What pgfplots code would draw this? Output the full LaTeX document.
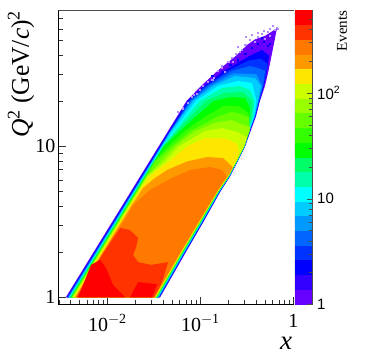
\documentclass[border=0pt]{standalone}
\usepackage{fontspec}
\setmainfont{Liberation Serif}
\setsansfont{Liberation Sans}
\usepackage{pgfplots}
\pgfplotsset{compat=1.18}

% palette, bottom (1 event) to top of the colour bar
\definecolor{c1}{HTML}{6600FF}
\definecolor{c2}{HTML}{3300FF}
\definecolor{c3}{HTML}{0000FF}
\definecolor{c4}{HTML}{0033FF}
\definecolor{c5}{HTML}{0066FF}
\definecolor{c6}{HTML}{0099FF}
\definecolor{c7}{HTML}{00CCFF}
\definecolor{c8}{HTML}{00FFFF}
\definecolor{c9}{HTML}{00FFAA}
\definecolor{c10}{HTML}{00FF66}
\definecolor{c11}{HTML}{00FF00}
\definecolor{c12}{HTML}{33FF00}
\definecolor{c13}{HTML}{66FF00}
\definecolor{c14}{HTML}{99FF00}
\definecolor{c15}{HTML}{CCFF00}
\definecolor{c16}{HTML}{FFE600}
\definecolor{c17}{HTML}{FF9900}
\definecolor{c18}{HTML}{FF7800}
\definecolor{c19}{HTML}{FF3300}
\definecolor{c20}{HTML}{FF0000}
\definecolor{speck}{HTML}{B48CFF}

\pgfplotsset{band/.style={fill=#1,draw=none,mark=none,forget plot}}

\begin{document}
\begin{tikzpicture}
\path[use as bounding box] (-58.5pt,-49.5pt) rectangle (308.5pt,304.5pt);

\begin{axis}[
  at={(0pt,0pt)}, anchor=south west,
  scale only axis, width=235.5pt, height=294pt,
  xmode=log, ymode=log,
  xmin=0.00298, xmax=1.017, ymin=0.896, ymax=79.3,
  axis lines=left,
  axis line style={-, black, line width=0.8pt},
  tick align=inside, major tick length=8pt, minor tick length=4.5pt,
  tick style={black!80, line width=0.5pt},
  xtick={0.01,0.1,1}, xticklabels={10\textsuperscript{$-$2},10\textsuperscript{$-$1},1},
  minor xtick={0.003,0.004,0.005,0.006,0.007,0.008,0.009,0.02,0.03,0.04,0.05,0.06,0.07,0.08,0.09,0.2,0.3,0.4,0.5,0.6,0.7,0.8,0.9},
  ytick={1,10}, yticklabels={1,10},
  minor ytick={2,3,4,5,6,7,8,9,20,30,40,50,60,70},
  xticklabel style={font=\fontsize{20}{20}\selectfont, yshift=-10pt, inner sep=0pt},
  yticklabel style={font=\fontsize{20}{20}\selectfont, xshift=-3pt, inner sep=0pt},
  xlabel={\textit{x}}, ylabel={\textit{Q}\textsuperscript{2} (GeV/\textit{c})\textsuperscript{2}},
  xlabel style={font=\fontsize{27}{27}\selectfont, at={(axis description cs:0.966,-0.11)}, anchor=north, inner sep=0pt},
  ylabel style={font=\fontsize{25.5}{26}\selectfont, at={(axis description cs:-0.159,1)}, anchor=east, inner sep=0pt},
]
% nested level regions of the histogram, lowest level first
\addplot[band=c1] coordinates {(0.00357,1) (0.0712,20) (0.102,25.1) (0.153,31.6) (0.242,39.8) (0.32,47) (0.387,51) (0.5,54) (0.6,58) (0.667,60.5) (0.628,50.1) (0.583,39.8) (0.541,31.6) (0.496,25.1) (0.438,20) (0.397,15.8) (0.347,12.6) (0.303,10) (0.252,7.94) (0.208,6.31) (0.164,5.01) (0.108,3.16) (0.0702,2) (0.0369,1)} --cycle;
\addplot[band=c3] coordinates {(0.00366,1) (0.073,20) (0.11,25.1) (0.18,31.6) (0.342,39.8) (0.46,43.4) (0.548,39.8) (0.521,31.6) (0.484,25.1) (0.433,20) (0.392,15.8) (0.342,12.6) (0.302,10) (0.251,7.94) (0.207,6.31) (0.163,5.01) (0.107,3.16) (0.0692,2) (0.0363,1)} --cycle;
\addplot[band=c4] coordinates {(0.0037,1) (0.0745,20) (0.114,25.1) (0.198,31.6) (0.33,37) (0.45,38) (0.53,35) (0.515,31.6) (0.478,25.1) (0.43,20) (0.39,15.8) (0.34,12.6) (0.301,10) (0.25,7.94) (0.206,6.31) (0.162,5.01) (0.106,3.16) (0.0688,2) (0.0361,1)} --cycle;
\addplot[band=c5] coordinates {(0.00375,1) (0.0734,19) (0.0775,20) (0.118,25.1) (0.219,31.6) (0.342,34) (0.417,33) (0.496,31.6) (0.472,25.1) (0.428,20) (0.387,15.8) (0.338,12.6) (0.301,10) (0.249,7.94) (0.205,6.31) (0.161,5.01) (0.105,3.16) (0.0683,2) (0.0358,1)} --cycle;
\addplot[band=c6] coordinates {(0.0038,1) (0.0475,12.6) (0.0618,15.8) (0.0805,20) (0.127,25.1) (0.228,30.4) (0.4,30) (0.46,25.1) (0.42,20) (0.385,15.8) (0.336,12.6) (0.3,10) (0.249,7.94) (0.204,6.31) (0.16,5.01) (0.104,3.16) (0.0677,2) (0.0355,1)} --cycle;
\addplot[band=c7] coordinates {(0.00385,1) (0.0484,12.6) (0.0628,15.8) (0.0835,20) (0.137,25.1) (0.236,29.2) (0.387,28.3) (0.45,25.1) (0.417,20) (0.383,15.8) (0.334,12.6) (0.299,10) (0.248,7.94) (0.204,6.31) (0.159,5.01) (0.104,3.16) (0.0671,2) (0.0351,1)} --cycle;
\addplot[band=c8] coordinates {(0.0039,1) (0.0389,10) (0.0502,12.6) (0.0668,15.8) (0.0899,20) (0.155,25.1) (0.254,27.1) (0.36,26.2) (0.402,20) (0.378,15.8) (0.334,12.6) (0.298,10) (0.247,7.94) (0.203,6.31) (0.158,5.01) (0.103,3.16) (0.0665,2) (0.0348,1)} --cycle;
\addplot[band=c9] coordinates {(0.00394,1) (0.0394,10) (0.0535,12.6) (0.0719,15.8) (0.0993,20) (0.171,24.3) (0.267,25.1) (0.342,23.6) (0.383,20) (0.369,15.8) (0.33,12.6) (0.298,10) (0.246,7.94) (0.202,6.31) (0.158,5.01) (0.102,3.16) (0.066,2) (0.0345,1)} --cycle;
\addplot[band=c10] coordinates {(0.00399,1) (0.0399,10) (0.0561,12.6) (0.0794,15.8) (0.115,20) (0.184,22.5) (0.288,22.9) (0.36,20) (0.356,15.8) (0.322,12.6) (0.298,10) (0.246,7.94) (0.202,6.31) (0.157,5.01) (0.102,3.16) (0.0656,2) (0.0342,1)} --cycle;
\addplot[band=c11] coordinates {(0.00404,1) (0.0404,10) (0.0605,12.6) (0.0899,15.8) (0.14,20) (0.219,21.2) (0.303,20.9) (0.342,17.9) (0.339,15.8) (0.314,12.6) (0.297,10) (0.245,7.94) (0.201,6.31) (0.156,5.01) (0.101,3.16) (0.0651,2) (0.034,1)} --cycle;
\addplot[band=c12] coordinates {(0.00409,1) (0.0319,7.94) (0.0448,10) (0.0671,12.6) (0.115,15.8) (0.178,18.5) (0.26,18.4) (0.33,16.6) (0.34,12.6) (0.296,10) (0.245,7.94) (0.2,6.31) (0.156,5.01) (0.1,3.16) (0.0647,2) (0.0338,1)} --cycle;
\addplot[band=c13] coordinates {(0.00414,1) (0.0328,7.94) (0.0497,10) (0.0775,12.6) (0.155,15.8) (0.219,16.9) (0.267,16.4) (0.335,15.5) (0.335,12.6) (0.296,10) (0.244,7.94) (0.2,6.31) (0.155,5.01) (0.0997,3.16) (0.0642,2) (0.0335,1)} --cycle;
\addplot[band=c14] coordinates {(0.0042,1) (0.0264,6.31) (0.0378,7.94) (0.0535,10) (0.0877,12.6) (0.144,14.3) (0.219,14.9) (0.267,14.1) (0.345,13.4) (0.333,12.6) (0.295,10) (0.243,7.94) (0.199,6.31) (0.154,5.01) (0.099,3.16) (0.0638,2) (0.0332,1)} --cycle;
\addplot[band=c15] coordinates {(0.00425,1) (0.0268,6.31) (0.0417,7.94) (0.059,10) (0.112,12.6) (0.171,13.2) (0.254,12.4) (0.318,11.5) (0.295,10) (0.243,7.94) (0.198,6.31) (0.154,5.01) (0.0984,3.16) (0.0634,2) (0.033,1)} --cycle;
\addplot[band=c16] coordinates {(0.00435,1) (0.0218,5.01) (0.0284,6.31) (0.046,7.94) (0.0719,10) (0.112,11.3) (0.184,11.3) (0.248,10.4) (0.261,9.17) (0.242,7.94) (0.198,6.31) (0.153,5.01) (0.0978,3.16) (0.063,2) (0.0328,1)} --cycle;
\addplot[band=c17] coordinates {(0.00446,1) (0.0178,3.98) (0.0199,4.41) (0.0242,5.3) (0.0326,6.17) (0.0439,6.97) (0.0719,7.94) (0.118,8.49) (0.175,8.37) (0.225,7.25) (0.197,6.31) (0.152,5.01) (0.0967,3.16) (0.0621,2) (0.0323,1)} --cycle;
\addplot[band=c18] coordinates {(0.00457,1) (0.0115,2.51) (0.0149,3.16) (0.0189,4.08) (0.0288,5.14) (0.0472,6.07) (0.0775,6.97) (0.127,7.29) (0.171,6.97) (0.19,6.31) (0.15,5.01) (0.0955,3.16) (0.0613,2) (0.0318,1)} --cycle;
\addplot[band=c19] coordinates {(0.00469,1) (0.00575,1.26) (0.00923,2) (0.0118,2.51) (0.0137,2.88) (0.0175,2.79) (0.0214,2.47) (0.0204,2.15) (0.0189,1.91) (0.0214,1.71) (0.0295,1.64) (0.045,1.71) (0.0387,1.26) (0.0318,1)} --cycle;
\addplot[band=c20] coordinates {(0.00484,1) (0.00668,1.64) (0.00835,1.77) (0.00968,1.56) (0.0115,1.21) (0.0155,1)} --cycle;
\addplot[band=c20] coordinates {(0.0175,1) (0.0302,1) (0.0342,1.22) (0.0214,1.26)} --cycle;
% sparse single bins along the upper edge
\addplot[only marks, color=speck, mark=square*, mark size=0.6pt, forget plot] coordinates {
(0.0652,17.9) (0.0738,19.4) (0.0815,21.2) (0.0922,22.2) (0.107,25.1) (0.121,26.7) (0.14,28.3) (0.155,31.5)
(0.171,33) (0.199,36.1) (0.219,38.4) (0.242,40.9) (0.267,42.1) (0.254,45.5) (0.303,46.9) (0.281,43.4)
(0.342,50.6) (0.387,49.1) (0.417,52.9) (0.46,55.4) (0.535,57.1) (0.635,58.9) (0.668,60.7) (0.561,53.8) (0.496,51.4)
(0.31,52.9) (0.36,54.6) (0.417,56.2) (0.484,58) (0.561,59.9) (0.605,62.7) (0.684,59.9) (0.184,31) (0.225,36.1)
(0.134,27.5) (0.0993,23.6) (0.0855,21.9) (0.0576,16.9) (0.171,34)
};
\addplot[only marks, color=c3, mark=square*, mark size=0.6pt, forget plot] coordinates {
(0.36,44.8) (0.417,47.5) (0.484,49.1) (0.561,47.5) (0.46,52.1) (0.535,46.1) (0.303,40.9) (0.254,37.2) (0.209,34.5)
(0.171,31) (0.134,29.2)
};
\draw[black!70, line width=0.5pt] (rel axis cs:0,1) -- (rel axis cs:1,1) -- (rel axis cs:1,0);
\end{axis}

\begin{axis}[
  at={(236.5pt,0pt)}, anchor=south west,
  scale only axis, width=17pt, height=294pt,
  ymode=log, xmin=0, xmax=1, ymin=1, ymax=602.8,
  axis x line=none, axis y line*=right,
  axis line style={-, black!70, line width=0.5pt},
  axis on top,
  tick align=inside, major tick length=5pt, minor tick length=3pt,
  tick style={black!70, line width=0.5pt},
  ytick={1,10,100}, yticklabels={1,10,10\textsuperscript{2}},
  minor ytick={2,3,4,5,6,7,8,9,20,30,40,50,60,70,80,90,200,300,400,500},
  yticklabel style={font=\sffamily\fontsize{15}{15}\selectfont, inner sep=0pt, xshift=5pt},
]
\addplot[band=c1] coordinates {(0,1) (1,1) (1,1.377) (0,1.377)} --cycle;
\addplot[band=c2] coordinates {(0,1.377) (1,1.377) (1,1.897) (0,1.897)} --cycle;
\addplot[band=c3] coordinates {(0,1.897) (1,1.897) (1,2.61) (0,2.61)} --cycle;
\addplot[band=c4] coordinates {(0,2.61) (1,2.61) (1,3.6) (0,3.6)} --cycle;
\addplot[band=c5] coordinates {(0,3.6) (1,3.6) (1,4.95) (0,4.95)} --cycle;
\addplot[band=c6] coordinates {(0,4.95) (1,4.95) (1,6.82) (0,6.82)} --cycle;
\addplot[band=c7] coordinates {(0,6.82) (1,6.82) (1,9.4) (0,9.4)} --cycle;
\addplot[band=c8] coordinates {(0,9.4) (1,9.4) (1,12.9) (0,12.9)} --cycle;
\addplot[band=c9] coordinates {(0,12.9) (1,12.9) (1,17.8) (0,17.8)} --cycle;
\addplot[band=c10] coordinates {(0,17.8) (1,17.8) (1,24.5) (0,24.5)} --cycle;
\addplot[band=c11] coordinates {(0,24.5) (1,24.5) (1,33.8) (0,33.8)} --cycle;
\addplot[band=c12] coordinates {(0,33.8) (1,33.8) (1,46.5) (0,46.5)} --cycle;
\addplot[band=c13] coordinates {(0,46.5) (1,46.5) (1,64.1) (0,64.1)} --cycle;
\addplot[band=c14] coordinates {(0,64.1) (1,64.1) (1,88.3) (0,88.3)} --cycle;
\addplot[band=c15] coordinates {(0,88.3) (1,88.3) (1,121.6) (0,121.6)} --cycle;
\addplot[band=c16] coordinates {(0,121.6) (1,121.6) (1,167.5) (0,167.5)} --cycle;
\addplot[band=c17] coordinates {(0,167.5) (1,167.5) (1,230.7) (0,230.7)} --cycle;
\addplot[band=c18] coordinates {(0,230.7) (1,230.7) (1,317.8) (0,317.8)} --cycle;
\addplot[band=c19] coordinates {(0,317.8) (1,317.8) (1,437.7) (0,437.7)} --cycle;
\addplot[band=c20] coordinates {(0,437.7) (1,437.7) (1,602.8) (0,602.8)} --cycle;
\end{axis}

\node[rotate=90, anchor=east, inner sep=0pt, font=\fontsize{15}{15}\selectfont] at (283.5pt,294pt) {Events};
\end{tikzpicture}
\end{document}
